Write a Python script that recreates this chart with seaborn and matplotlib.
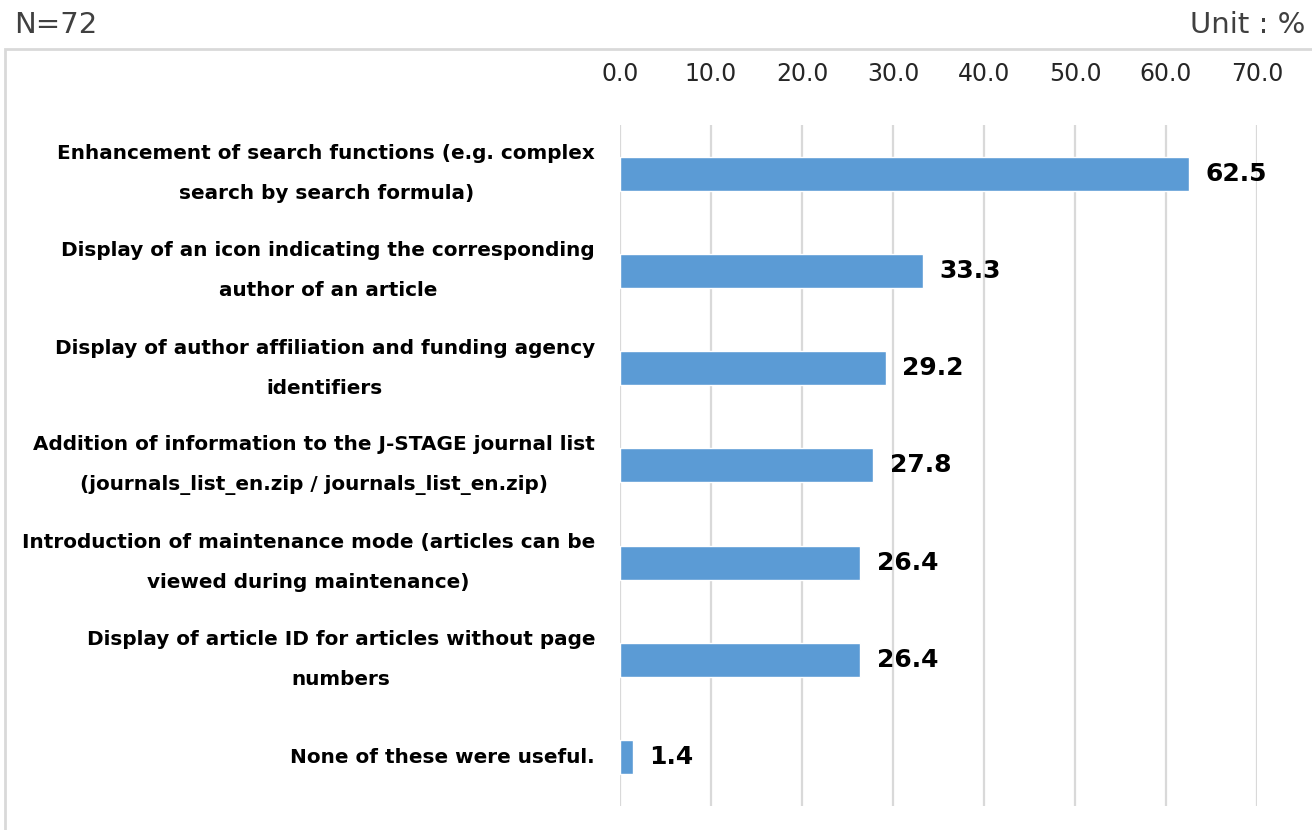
import matplotlib
matplotlib.use("Agg")
import matplotlib.pyplot as plt
import seaborn as sns
import pandas as pd
from matplotlib.patches import Rectangle

# dados do gráfico
categories = [
    "Enhancement of search functions (e.g. complex\nsearch by search formula)",
    "Display of an icon indicating the corresponding\nauthor of an article",
    "Display of author affiliation and funding agency\nidentifiers",
    "Addition of information to the J-STAGE journal list\n(journals_list_en.zip / journals_list_en.zip)",
    "Introduction of maintenance mode (articles can be\nviewed during maintenance)",
    "Display of article ID for articles without page\nnumbers",
    "None of these were useful.",
]
values = [62.5, 33.3, 29.2, 27.8, 26.4, 26.4, 1.4]
x_ticks = [0, 10, 20, 30, 40, 50, 60, 70]

df = pd.DataFrame({"item": categories, "pct": values})

sns.set_style("white")
plt.rcParams["font.family"] = ["DejaVu Sans"]

fig = plt.figure(figsize=(13.12, 8.3), dpi=100)
ax = fig.add_axes([0.4726, 0.029, 0.4855, 0.8205])

sns.barplot(data=df, x="pct", y="item", color="#5B9BD5", width=0.35,
            saturation=1, ax=ax)

ax.set_xlim(0, 70)
ax.set_xticks(x_ticks)
ax.set_xticklabels([f"{t:.1f}" for t in x_ticks], fontsize=17, color="#262626")
ax.xaxis.tick_top()
ax.tick_params(axis="x", length=0, pad=28)
ax.grid(axis="x", color="#d9d9d9", linewidth=1.6)
ax.set_axisbelow(True)
for s in ax.spines.values():
    s.set_visible(False)

ax.tick_params(axis="y", length=0, pad=18)
for lbl in ax.get_yticklabels():
    lbl.set_fontweight("bold")
    lbl.set_fontsize(14.4)
    lbl.set_multialignment("center")
    lbl.set_linespacing(2.4)
    lbl.set_verticalalignment("center")
    lbl.set_color("black")
ax.set_xlabel("")
ax.set_ylabel("")

ax.bar_label(ax.containers[0], fmt="%.1f", padding=12, fontsize=18,
             fontweight="bold", color="black")

# moldura e textos de cima
fig.patches.append(Rectangle((0.004, -0.01), 0.999, 0.951, transform=fig.transFigure,
                             fill=False, edgecolor="#d9d9d9", linewidth=2))
fig.text(0.011, 0.97, "N=72", fontsize=21, color="#404040", va="center", ha="left")
fig.text(0.995, 0.97, "Unit : %", fontsize=21, color="#404040", va="center", ha="right")

fig.savefig("out.png", dpi=100)
